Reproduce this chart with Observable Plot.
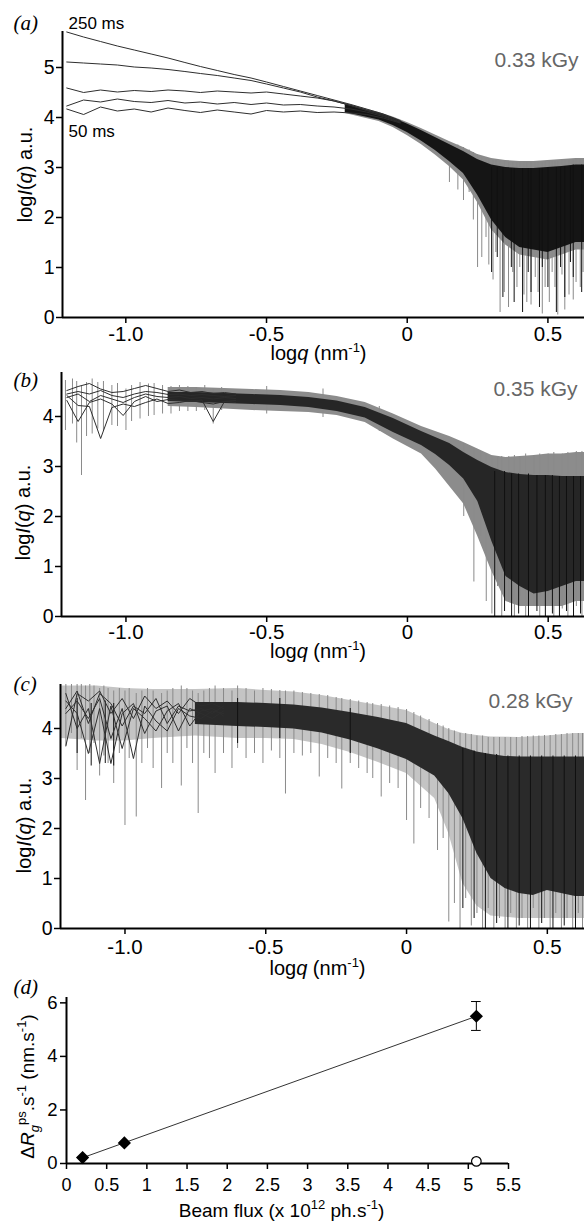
<!DOCTYPE html>
<html><head><meta charset="utf-8">
<script src="https://cdn.jsdelivr.net/npm/d3@7"></script>
<script src="https://cdn.jsdelivr.net/npm/@observablehq/plot@0.6"></script>
<style>
body{margin:0;background:#fff;}
#fig{position:relative;width:584px;height:1223px;overflow:hidden;background:#fff;}
</style></head><body><div id="fig"></div>
<script>
// ---------- Panel (a): 0.33 kGy, five exposures 50–250 ms ----------
const qA = [-1.21,-1.15,-1.09,-1.03,-0.97,-0.91,-0.85,-0.79,-0.735,-0.675,-0.615,-0.555,-0.5,-0.44,-0.38,-0.32,-0.26,-0.2,-0.145,-0.085,-0.025];
const a250 = [5.71,5.61,5.52,5.43,5.35,5.27,5.19,5.10,5.02,4.94,4.86,4.79,4.71,4.62,4.53,4.44,4.35,4.26,4.17,4.07,3.94];
const a200 = [5.11,5.09,5.07,5.05,5.01,4.99,4.96,4.92,4.88,4.84,4.79,4.74,4.67,4.59,4.51,4.41,4.33,4.24,4.15,4.06,3.93];
const a150 = [4.59,4.50,4.55,4.51,4.54,4.52,4.55,4.53,4.50,4.53,4.51,4.49,4.51,4.47,4.43,4.39,4.33,4.24,4.14,4.04,3.91];
const a100 = [4.23,4.35,4.31,4.37,4.32,4.30,4.34,4.29,4.31,4.27,4.30,4.26,4.29,4.25,4.26,4.23,4.21,4.17,4.11,4.02,3.90];
const a50  = [4.17,4.06,4.21,4.13,4.17,4.11,4.19,4.14,4.10,4.15,4.11,4.07,4.14,4.11,4.13,4.10,4.11,4.09,4.06,3.99,3.89];
// [logq, upper, lower]
const outerA = [[-0.22,4.28,4.08],[-0.1,4.10,3.92],[-0.05,4.01,3.80],[0,3.90,3.64],[0.05,3.78,3.46],[0.1,3.65,3.25],[0.15,3.52,3.02],[0.2,3.40,2.75],[0.25,3.26,2.30],[0.3,3.18,1.75],[0.35,3.14,1.45],[0.4,3.12,1.25],[0.45,3.12,1.20],[0.5,3.14,1.15],[0.55,3.16,1.25],[0.6,3.18,1.35],[0.64,3.18,1.35]];
const coreA = [[-0.22,4.26,4.10],[-0.1,4.08,3.95],[-0.05,3.99,3.84],[0,3.87,3.70],[0.05,3.74,3.53],[0.1,3.60,3.34],[0.15,3.46,3.12],[0.2,3.32,2.88],[0.25,3.16,2.45],[0.3,3.05,1.95],[0.35,3.00,1.60],[0.4,2.98,1.40],[0.45,2.98,1.35],[0.5,3.00,1.30],[0.55,3.02,1.40],[0.6,3.05,1.50],[0.64,3.05,1.50]];
// [logq, bottom, top]
const graySpikesA = [[0.15,2.7,3.5],[0.18,2.55,3.45],[0.2,2.34,3.4],[0.22,2.5,3.35],[0.235,1.95,3.3],[0.25,1.0,3.25],[0.265,1.2,3.22],[0.28,1.6,3.2],[0.29,1.05,3.18],[0.305,0.75,3.15],[0.315,1.3,3.15],[0.33,0.1,3.12],[0.345,0.5,3.12],[0.36,0.2,3.1],[0.375,0.9,3.1],[0.39,0.6,3.1],[0.4,1.0,3.1],[0.415,0.45,3.1],[0.425,0.3,3.1],[0.44,0.25,3.1],[0.455,0.8,3.1],[0.465,0.5,3.1],[0.48,0.07,3.1],[0.49,0.6,3.12],[0.505,0.3,3.12],[0.515,0.9,3.12],[0.525,0.6,3.12],[0.535,0.05,3.12],[0.55,0.85,3.14],[0.56,0.15,3.14],[0.575,0.45,3.14],[0.59,0.35,3.15],[0.6,0.7,3.16],[0.615,0.6,3.16],[0.625,0.9,3.16]];
const darkSpikesA = [[0.3,0.9,3.0],[0.32,1.2,3.0],[0.34,0.4,3.0],[0.37,1.0,2.98],[0.38,0.3,2.98],[0.41,0.1,2.98],[0.43,0.9,2.98],[0.44,0.5,2.98],[0.47,0.2,2.98],[0.48,1.0,2.98],[0.5,0.6,3.0],[0.53,0.1,3.0],[0.545,1.0,3.0],[0.56,0.4,3.02],[0.58,1.1,3.02],[0.59,0.8,3.05],[0.62,0.5,3.05]];

// ---------- Panel (b): 0.35 kGy ----------
const qB = [-1.21,-1.17,-1.13,-1.09,-1.05,-1.01,-0.97,-0.93,-0.89,-0.85,-0.81,-0.77,-0.73,-0.69,-0.65,-0.61];
const b1 = [4.52,4.60,4.66,4.55,4.48,4.50,4.56,4.62,4.56,4.50,4.53,4.48,4.50,4.46,4.48,4.45];
const b2 = [4.45,4.50,4.45,4.52,4.42,4.38,4.45,4.50,4.48,4.44,4.45,4.42,4.44,4.42,4.40,4.42];
const b3 = [4.38,4.45,4.30,4.42,4.35,4.28,4.38,4.45,4.40,4.38,4.40,4.36,4.38,4.35,4.38,4.36];
const b4 = [4.32,3.90,4.28,4.35,4.25,4.02,4.30,4.40,4.30,4.34,4.32,4.30,4.33,3.90,4.30,4.32];
const b5 = [4.42,4.22,4.20,3.56,4.18,4.25,4.20,4.28,4.35,4.26,4.28,4.32,4.28,4.25,4.30,4.28];
const outerB = [[-0.85,4.58,4.20],[-0.75,4.58,4.18],[-0.65,4.56,4.15],[-0.55,4.54,4.12],[-0.45,4.52,4.10],[-0.35,4.48,4.08],[-0.25,4.40,4.02],[-0.15,4.28,3.88],[-0.05,4.05,3.55],[0.05,3.80,3.25],[0.1,3.70,2.95],[0.15,3.60,2.60],[0.2,3.48,2.25],[0.25,3.35,1.60],[0.3,3.22,0.90],[0.35,3.18,0.30],[0.4,3.20,0.20],[0.45,3.22,0.20],[0.5,3.25,0.20],[0.55,3.25,0.20],[0.6,3.28,0.30],[0.64,3.28,0.30]];
const coreB = [[-0.85,4.48,4.30],[-0.75,4.48,4.28],[-0.65,4.46,4.26],[-0.55,4.44,4.24],[-0.45,4.42,4.22],[-0.35,4.38,4.18],[-0.25,4.31,4.10],[-0.15,4.18,3.97],[-0.05,3.96,3.68],[0.05,3.70,3.42],[0.1,3.58,3.24],[0.15,3.46,3.02],[0.2,3.28,2.75],[0.25,3.12,2.30],[0.3,2.98,1.50],[0.35,2.88,0.80],[0.4,2.84,0.60],[0.45,2.82,0.45],[0.5,2.82,0.50],[0.55,2.80,0.60],[0.6,2.80,0.70],[0.64,2.80,0.70]];
const graySpikesB = [[-1.215,3.72,4.72],[-1.19,3.85,4.75],[-1.175,3.47,4.70],[-1.158,2.82,4.60],[-1.14,3.60,4.68],[-1.12,3.65,4.75],[-1.10,3.75,4.68],[-1.08,3.70,4.70],[-1.05,3.82,4.62],[-1.03,3.80,4.66],[-1.0,3.72,4.55],[-0.98,3.90,4.62],[-0.95,3.95,4.68],[-0.92,4.0,4.65],[-0.9,4.02,4.66],[-0.87,4.05,4.62],[-0.84,4.05,4.60],[-0.81,4.1,4.62],[-0.78,4.1,4.60],[-0.75,4.1,4.58],[-0.72,4.12,4.62],[-0.69,3.85,4.55],[-0.66,4.12,4.58],[-0.5,4.05,4.6],[-0.3,3.98,4.55],[-0.1,3.7,4.2],
  [0.2,2.0,3.45],[0.236,0.69,3.35],[0.26,1.6,3.3],[0.28,0.3,3.25],[0.3,0.05,3.2],[0.32,0.6,3.18],[0.335,0.0,3.2],[0.36,0.3,3.2],[0.38,0.0,3.22],[0.4,0.4,3.2],[0.42,0.0,3.25],[0.45,0.2,3.22],[0.47,0.0,3.25],[0.5,0.3,3.25],[0.52,0.0,3.28],[0.55,0.15,3.25],[0.57,0.0,3.28],[0.6,0.2,3.3],[0.62,0.0,3.3]];
const darkSpikesB = [[0.31,0.0,2.9],[0.345,0.1,2.9],[0.37,0.0,2.85],[0.395,0.05,2.85],[0.43,0.0,2.85],[0.46,0.1,2.82],[0.49,0.0,2.82],[0.515,0.05,2.82],[0.54,0.0,2.8],[0.565,0.1,2.8],[0.59,0.0,2.8],[0.615,0.05,2.8]];

// ---------- Panel (c): 0.28 kGy ----------
const qC = [-1.21,-1.17,-1.13,-1.09,-1.05,-1.01,-0.97,-0.93,-0.89,-0.85,-0.81,-0.77,-0.73,-0.69,-0.65];
const c1 = [3.65,4.70,4.55,4.75,4.30,4.60,4.20,4.65,4.40,4.55,4.30,4.60,4.45,4.50,4.40];
const c2 = [4.40,4.75,4.10,4.70,4.50,4.05,4.45,4.30,4.60,4.10,4.45,4.35,4.40,4.30,4.45];
const c3 = [4.55,4.30,3.50,4.40,3.30,4.30,4.50,3.90,4.35,4.45,3.95,4.40,4.30,4.20,4.35];
const c4 = [4.70,4.00,4.40,3.30,4.45,3.60,4.40,4.20,3.95,4.35,4.50,4.05,4.35,4.40,4.25];
const c5 = [4.30,4.55,4.20,4.60,3.80,4.40,3.40,4.45,4.15,3.95,4.40,4.25,4.20,4.35,4.30];
const outerC = [[-1.225,4.85,3.80],[-1.1,4.85,3.75],[-1.0,4.80,3.75],[-0.9,4.78,3.80],[-0.75,4.78,3.85],[-0.6,4.80,3.80],[-0.5,4.76,3.80],[-0.4,4.73,3.78],[-0.3,4.66,3.68],[-0.2,4.56,3.52],[-0.1,4.46,3.32],[0,4.36,3.10],[0.1,4.10,2.60],[0.15,3.98,1.90],[0.2,3.90,0.90],[0.25,3.86,0.45],[0.3,3.83,0.25],[0.4,3.82,0.20],[0.5,3.85,0.20],[0.6,3.90,0.20],[0.64,3.90,0.20]];
const coreC = [[-0.75,4.52,4.08],[-0.6,4.52,4.04],[-0.5,4.50,4.02],[-0.4,4.47,3.99],[-0.3,4.41,3.91],[-0.2,4.32,3.77],[-0.1,4.22,3.59],[0,4.10,3.38],[0.1,3.85,3.05],[0.15,3.74,2.70],[0.2,3.62,2.20],[0.25,3.53,1.50],[0.3,3.48,1.00],[0.35,3.44,0.80],[0.4,3.43,0.70],[0.45,3.43,0.66],[0.5,3.43,0.76],[0.55,3.43,0.70],[0.6,3.43,0.64],[0.64,3.43,0.64]];
const graySpikesC = [[-1.21,3.65,4.9],[-1.19,3.9,4.95],[-1.17,3.16,4.95],[-1.155,3.8,4.9],[-1.14,2.56,4.85],[-1.125,3.5,4.9],[-1.11,3.7,4.85],[-1.09,3.05,4.8],[-1.075,3.45,4.85],[-1.06,3.3,4.8],[-1.04,2.9,4.75],[-1.02,3.5,4.8],[-1.0,2.06,4.75],[-0.985,3.4,4.8],[-0.96,2.23,4.7],[-0.94,3.3,4.75],[-0.92,3.6,4.8],[-0.9,3.2,4.75],[-0.87,2.8,4.7],[-0.85,3.5,4.75],[-0.83,3.3,4.8],[-0.8,2.85,4.85],[-0.78,3.6,4.8],[-0.76,3.3,4.75],[-0.74,2.3,4.7],[-0.72,3.5,4.75],[-0.7,3.4,4.8],[-0.68,3.1,4.85],[-0.65,3.5,4.8],[-0.62,3.2,4.75],[-0.6,3.6,4.85],[-0.57,3.4,4.8],[-0.54,3.5,4.75],[-0.51,3.3,4.8],[-0.48,3.55,4.78],[-0.45,3.4,4.76],[-0.43,2.69,4.75],[-0.4,3.5,4.75],[-0.37,3.45,4.72],[-0.34,3.5,4.7],[-0.31,3.03,4.68],[-0.28,3.4,4.66],[-0.25,3.3,4.62],[-0.23,2.79,4.6],[-0.2,3.3,4.58],[-0.17,3.2,4.55],[-0.14,3.1,4.52],[-0.12,3.0,4.5],[-0.09,2.63,4.48],[-0.06,2.9,4.45],[-0.03,2.8,4.42],[0,2.16,4.38],[0.026,1.69,4.32],[0.05,2.4,4.25],[0.08,2.2,4.18],[0.11,1.56,4.1],[0.13,1.8,4.05],[0.15,0.13,4.0],[0.17,0.5,3.95],[0.19,0.0,3.9],[0.21,0.6,3.9],[0.23,0.05,3.88],[0.25,0.3,3.85],[0.27,0.0,3.85],[0.29,0.4,3.82],[0.31,0.0,3.82],[0.33,0.2,3.82],[0.35,0.0,3.82],[0.37,0.3,3.82],[0.39,0.0,3.82],[0.41,0.2,3.84],[0.43,0.0,3.84],[0.45,0.4,3.85],[0.47,0.0,3.85],[0.49,0.2,3.86],[0.51,0.0,3.86],[0.53,0.3,3.88],[0.55,0.0,3.88],[0.57,0.2,3.9],[0.59,0.0,3.9],[0.61,0.3,3.9],[0.625,0.0,3.9]];
const darkSpikesC = [[-1.17,3.5,4.6],[-1.12,3.25,4.5],[-1.07,3.3,4.55],[-1.04,3.25,4.5],[-0.6,3.7,4.6],[-0.45,3.8,4.6],[-0.2,3.5,4.4],[0.2,0.4,3.6],[0.24,0.2,3.55],[0.28,0.0,3.5],[0.32,0.1,3.48],[0.36,0.0,3.45],[0.4,0.05,3.45],[0.44,0.0,3.45],[0.48,0.1,3.45],[0.52,0.0,3.45],[0.56,0.05,3.45],[0.6,0.0,3.45]];

// ---------- Panel (d) ----------
const fluxD = [0.2, 0.72, 5.1];
const rateD = [0.22, 0.77, 5.5];
const errLowD = [5.1, 4.97];   // [flux, low]
const errHighD = [5.1, 6.05];  // [flux, high]
const openFluxD = [5.1];
const openRateD = [0.08];

const qTicks = [-1, -0.5, 0, 0.5];
const yTicksA = [0, 1, 2, 3, 4, 5];
const yTicksBC = [0, 1, 2, 3, 4];
const fluxTicks = [0, 0.5, 1, 1.5, 2, 2.5, 3, 3.5, 4, 4.5, 5, 5.5];
const rateTicks = [0, 2, 4, 6];

const FONT = "Liberation Sans, Arial, Helvetica, sans-serif";
const SERIF = "Liberation Serif, Times New Roman, serif";
const fig = document.getElementById("fig");

const curveRows = (grid, series) => series.flatMap(([s, vals]) => vals.map((v, i) => ({q: grid[i], v, s})));
const bandRows = (arr) => arr.map(([q, hi, lo]) => ({q, hi, lo}));
const qFmt = d => d === 0 ? "0" : d.toFixed(1);
const intFmt = d => String(d);

function spectrumPanel(o) {
  return Plot.plot({
    width: 584, height: o.height,
    marginLeft: o.ml, marginRight: 0, marginTop: o.mt, marginBottom: o.mb,
    style: {fontFamily: FONT, fontSize: "19px", background: "transparent", overflow: "visible"},
    x: {domain: o.xd},
    y: {domain: o.yd},
    marks: [
      Plot.areaY(bandRows(o.outer), {x: "q", y1: "lo", y2: "hi", fill: o.outerFill, clip: true}),
      Plot.ruleX(o.gray, {x: d => d[0], y1: d => d[1], y2: d => d[2], stroke: "#8a8a8a", strokeWidth: 1, clip: true}),
      Plot.areaY(bandRows(o.core), {x: "q", y1: "lo", y2: "hi", fill: o.coreFill, clip: true}),
      Plot.ruleX(o.dark, {x: d => d[0], y1: d => d[1], y2: d => d[2], stroke: "#111", strokeWidth: 1, clip: true}),
      Plot.line(o.curves, {x: "q", y: "v", z: "s", stroke: "#2e2e2e", strokeWidth: 1, clip: true}),
      Plot.ruleX([o.xd[0]], {stroke: "#000", strokeWidth: 2}),
      Plot.ruleY([0], {stroke: "#000", strokeWidth: 2}),
      Plot.axisX({ticks: qTicks, tickFormat: qFmt, tickSize: 6, tickPadding: o.xpad, label: null, strokeWidth: 1.5, fontSize: 20.5}),
      Plot.axisY({ticks: o.yticks, tickFormat: intFmt, tickSize: 6, tickPadding: 2, label: null, strokeWidth: 1.5, fontSize: 19.5}),
      Plot.text([o.letter], {frameAnchor: "top-left", dx: o.letterDx, dy: o.letterDy, textAnchor: "start", lineAnchor: "bottom", fontFamily: SERIF, fontStyle: "italic", fontSize: 21}),
      Plot.text([o.dose], {frameAnchor: "top-right", dx: o.doseDx, dy: o.doseDy, textAnchor: "end", lineAnchor: "bottom", fill: "#666", fontSize: 21}),
      Plot.text(["logq (nm-1)"], {frameAnchor: "bottom", dx: -5, dy: o.xlabDy, textAnchor: "middle", lineAnchor: "bottom", fontSize: 20}),
      Plot.text(["logI(q) a.u."], {frameAnchor: "left", dx: o.ylabDx, dy: o.ylabDy, rotate: -90, textAnchor: "middle", lineAnchor: "middle", fontSize: 20}),
      ...(o.extra || [])
    ]
  });
}

const plotA = spectrumPanel({
  height: 362, ml: 62, mt: 31, mb: 45, xd: [-1.225, 0.63], yd: [0, 5.72], yticks: yTicksA, xpad: 3,
  outer: outerA, core: coreA, outerFill: "#8c8c8c", coreFill: "#151515",
  gray: graySpikesA, dark: darkSpikesA,
  curves: curveRows(qA, [["250", a250], ["200", a200], ["150", a150], ["100", a100], ["50", a50]]),
  letter: "(a)", letterDx: -49, letterDy: -2, dose: "0.33 kGy", doseDx: -6, doseDy: 35,
  xlabDy: 42, ylabDx: -37, ylabDy: 0,
  extra: [
    Plot.text(["250 ms"], {frameAnchor: "top-left", dx: 6, dy: -3, textAnchor: "start", lineAnchor: "bottom", fontSize: 17}),
    Plot.text(["50 ms"], {frameAnchor: "top-left", dx: 6, dy: 105, textAnchor: "start", lineAnchor: "bottom", fontSize: 17})
  ]
});
const plotB = spectrumPanel({
  height: 330, ml: 61, mt: 32, mb: 54, xd: [-1.229, 0.629], yd: [0, 4.88], yticks: yTicksBC, xpad: 2,
  outer: outerB, core: coreB, outerFill: "#8c8c8c", coreFill: "#262626",
  gray: graySpikesB, dark: darkSpikesB,
  curves: curveRows(qB, [["1", b1], ["2", b2], ["3", b3], ["4", b4], ["5", b5]]),
  letter: "(b)", letterDx: -48, letterDy: 14, dose: "0.35 kGy", doseDx: -7, doseDy: 23,
  xlabDy: 41, ylabDx: -38, ylabDy: 18
});
const plotC = spectrumPanel({
  height: 330, ml: 60, mt: 29, mb: 57, xd: [-1.229, 0.632], yd: [0, 4.88], yticks: yTicksBC, xpad: 5,
  outer: outerC, core: coreC, outerFill: "#c4c4c4", coreFill: "#2a2a2a",
  gray: graySpikesC, dark: darkSpikesC,
  curves: curveRows(qC, [["1", c1], ["2", c2], ["3", c3], ["4", c4], ["5", c5]]),
  letter: "(c)", letterDx: -47, letterDy: 6, dose: "0.28 kGy", doseDx: -12, doseDy: 23,
  xlabDy: 46, ylabDx: -36, ylabDy: 19
});

const pointsD = fluxD.map((x, i) => ({x, y: rateD[i]}));
const errD = [{x: errLowD[0], lo: errLowD[1], hi: errHighD[1]}];
const openD = openFluxD.map((x, i) => ({x, y: openRateD[i]}));
const plotD = Plot.plot({
  width: 584, height: 248,
  marginLeft: 66, marginRight: 76, marginTop: 22, marginBottom: 60,
  style: {fontFamily: FONT, fontSize: "18px", background: "transparent", overflow: "visible"},
  x: {domain: [0, 5.5]},
  y: {domain: [0, 6.2]},
  marks: [
    Plot.linearRegressionY(pointsD, {x: "x", y: "y", ci: 0, stroke: "#333", strokeWidth: 1}),
    Plot.ruleX(errD, {x: "x", y1: "lo", y2: "hi", stroke: "#000", strokeWidth: 1}),
    Plot.ruleY(errD, {y: "lo", x1: d => d.x - 0.06, x2: d => d.x + 0.06, stroke: "#000", strokeWidth: 1}),
    Plot.ruleY(errD, {y: "hi", x1: d => d.x - 0.06, x2: d => d.x + 0.06, stroke: "#000", strokeWidth: 1}),
    Plot.ruleX([0], {stroke: "#000", strokeWidth: 2}),
    Plot.ruleY([0], {stroke: "#000", strokeWidth: 2}),
    Plot.dot(pointsD, {x: "x", y: "y", symbol: "diamond2", r: 5, fill: "#000", stroke: "#000"}),
    Plot.dot(openD, {x: "x", y: "y", symbol: "circle", r: 4.8, fill: "#fff", stroke: "#000", strokeWidth: 1.2}),
    Plot.axisX({ticks: fluxTicks, tickFormat: intFmt, tickSize: 6, tickPadding: 9, label: null, strokeWidth: 1.5, fontSize: 18}),
    Plot.axisY({ticks: rateTicks, tickFormat: intFmt, tickSize: 6, tickPadding: 3, label: null, strokeWidth: 1.5, fontSize: 18.5}),
    Plot.text(["(d)"], {frameAnchor: "top-left", dx: -53, dy: -4, textAnchor: "start", lineAnchor: "bottom", fontFamily: SERIF, fontStyle: "italic", fontSize: 21}),
    Plot.text(["Beam flux (x 1012 ph.s-1)"], {frameAnchor: "bottom", dx: -6, dy: 53, textAnchor: "middle", lineAnchor: "bottom", fontSize: 19}),
    Plot.text(["dRgps.s-1 (nm.s-1)"], {frameAnchor: "left", dx: -39, dy: 6, rotate: -90, textAnchor: "middle", lineAnchor: "middle", fontSize: 19})
  ]
});

const RICH = {
  "logq (nm-1)": 'log<tspan font-style="italic">q</tspan> (nm<tspan font-size="13" dy="-8">-1</tspan><tspan dy="8">)</tspan>',
  "logI(q) a.u.": 'log<tspan font-style="italic">I</tspan>(<tspan font-style="italic">q</tspan>) a.u.',
  "Beam flux (x 1012 ph.s-1)": 'Beam flux (x 10<tspan font-size="13" dy="-8">12</tspan><tspan dy="8"> ph.s</tspan><tspan font-size="13" dy="-8">-1</tspan><tspan dy="8">)</tspan>',
  "dRgps.s-1 (nm.s-1)": '\u0394<tspan font-style="italic">R</tspan><tspan font-size="13" font-style="italic" dy="5">g</tspan><tspan font-size="13" dy="-13">ps</tspan><tspan dy="8">.s</tspan><tspan font-size="13" dy="-8">-1</tspan><tspan dy="8"> (nm.s</tspan><tspan font-size="13" dy="-8">-1</tspan><tspan dy="8">)</tspan>'
};

[[plotA, 0], [plotB, 340], [plotC, 655], [plotD, 975]].forEach(([svg, top]) => {
  svg.style.position = "absolute";
  svg.style.left = "0px";
  svg.style.top = top + "px";
  svg.style.background = "transparent";
  svg.style.overflow = "visible";
  svg.querySelectorAll("text").forEach(t => {
    const k = t.textContent;
    if (RICH[k]) t.innerHTML = RICH[k];
  });
  fig.appendChild(svg);
});
</script></body></html>
